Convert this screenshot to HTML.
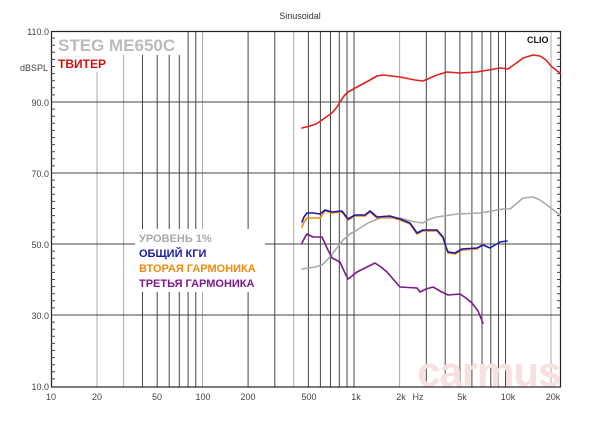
<!DOCTYPE html><html><head><meta charset="utf-8"><style>body{margin:0;background:#fff}svg{display:block;font-family:"Liberation Sans",sans-serif}</style></head><body>
<svg width="600" height="427" viewBox="0 0 600 427">
<text x="300" y="19" font-size="9" text-anchor="middle" fill="#333">Sinusoidal</text>
<g stroke="#444" stroke-width="1">
<line x1="97" y1="40" x2="97" y2="387" stroke="#aaa"/>
<line x1="123.6" y1="55" x2="123.6" y2="387" stroke="#aaa"/>
<line x1="142.5" y1="55" x2="142.5" y2="387"/>
<line x1="157.2" y1="55" x2="157.2" y2="387"/>
<line x1="169.2" y1="55" x2="169.2" y2="387"/>
<line x1="179.3" y1="55" x2="179.3" y2="387"/>
<line x1="188.1" y1="31" x2="188.1" y2="387"/>
<line x1="195.8" y1="31" x2="195.8" y2="387"/>
<line x1="202.5" y1="31" x2="202.5" y2="387" stroke="#aaa"/>
<line x1="248.1" y1="31" x2="248.1" y2="387"/>
<line x1="274.8" y1="31" x2="274.8" y2="387"/>
<line x1="293.7" y1="31" x2="293.7" y2="387" stroke="#aaa"/>
<line x1="308.4" y1="31" x2="308.4" y2="387"/>
<line x1="320.4" y1="31" x2="320.4" y2="387"/>
<line x1="330.5" y1="31" x2="330.5" y2="387"/>
<line x1="339.3" y1="31" x2="339.3" y2="387"/>
<line x1="347.0" y1="31" x2="347.0" y2="387"/>
<line x1="354" y1="31" x2="354" y2="387"/>
<line x1="399.6" y1="31" x2="399.6" y2="387" stroke="#aaa"/>
<line x1="426.3" y1="31" x2="426.3" y2="387"/>
<line x1="445.2" y1="31" x2="445.2" y2="387"/>
<line x1="459.9" y1="31" x2="459.9" y2="387"/>
<line x1="471.9" y1="31" x2="471.9" y2="387"/>
<line x1="482" y1="31" x2="482" y2="387"/>
<line x1="490.8" y1="31" x2="490.8" y2="387"/>
<line x1="498.5" y1="31" x2="498.5" y2="387"/>
<line x1="505.5" y1="31" x2="505.5" y2="387"/>
<line x1="551" y1="31" x2="551" y2="387" stroke="#aaa"/>
<line x1="51" y1="102" x2="561" y2="102"/>
<line x1="51" y1="173" x2="561" y2="173"/>
<line x1="51" y1="244" x2="561" y2="244"/>
<line x1="51" y1="315" x2="561" y2="315"/>
</g>
<rect x="57" y="33" width="120" height="22" fill="#fff"/>
<rect x="57" y="55" width="50" height="17" fill="#fff"/>
<rect x="135" y="229" width="130" height="63" fill="#fff"/>
<text x="417" y="386" font-size="42" font-weight="bold" fill="#f6e0e0" letter-spacing="-1">carmus</text>
<rect x="51.5" y="31.5" width="509" height="355.5" fill="none" stroke="#222" stroke-width="1.2"/>
<g stroke="#444">
<path d="M51 38.1h4M51 45.2h4M51 52.3h4M51 59.4h4M51 66.5h4M51 73.6h4M51 80.7h4M51 87.8h4M51 94.9h4M51 109.1h4M51 116.2h4M51 123.3h4M51 130.4h4M51 137.5h4M51 144.6h4M51 151.7h4M51 158.8h4M51 165.9h4M51 180.1h4M51 187.2h4M51 194.3h4M51 201.4h4M51 208.5h4M51 215.6h4M51 222.7h4M51 229.8h4M51 236.9h4M51 251.1h4M51 258.2h4M51 265.3h4M51 272.4h4M51 279.5h4M51 286.6h4M51 293.7h4M51 300.8h4M51 307.9h4M51 322.1h4M51 329.2h4M51 336.3h4M51 343.4h4M51 350.5h4M51 357.6h4M51 364.7h4M51 371.8h4M51 378.9h4"/>
<path d="M561 38.1h-4M561 45.2h-4M561 52.3h-4M561 59.4h-4M561 66.5h-4M561 73.6h-4M561 80.7h-4M561 87.8h-4M561 94.9h-4M561 109.1h-4M561 116.2h-4M561 123.3h-4M561 130.4h-4M561 137.5h-4M561 144.6h-4M561 151.7h-4M561 158.8h-4M561 165.9h-4M561 180.1h-4M561 187.2h-4M561 194.3h-4M561 201.4h-4M561 208.5h-4M561 215.6h-4M561 222.7h-4M561 229.8h-4M561 236.9h-4M561 251.1h-4M561 258.2h-4M561 265.3h-4M561 272.4h-4M561 279.5h-4M561 286.6h-4M561 293.7h-4M561 300.8h-4M561 307.9h-4"/>
</g>
<g font-size="9" fill="#444" text-anchor="end">
<text x="49" y="35">110.0</text><text x="48" y="71">dBSPL</text><text x="49" y="106">90.0</text><text x="49" y="177">70.0</text><text x="49" y="248">50.0</text><text x="49" y="319">30.0</text><text x="49" y="390">10.0</text>
</g>
<g font-size="9" fill="#444" text-anchor="middle">
<text x="51" y="400">10</text><text x="97" y="400">20</text><text x="157" y="400">50</text><text x="203" y="400">100</text><text x="248" y="400">200</text><text x="309" y="400">500</text><text x="356" y="400">1k</text><text x="401" y="400">2k</text><text x="418" y="400">Hz</text><text x="462" y="400">5k</text><text x="508" y="400">10k</text><text x="553" y="400">20k</text>
</g>
<text x="527" y="43" font-size="9" font-weight="bold" fill="#111">CLIO</text>
<text x="58" y="51" font-size="17" font-weight="bold" fill="#bbb">STEG ME650C</text>
<text x="58" y="68" font-size="12" font-weight="bold" fill="#d01010">ТВИТЕР</text>
<g fill="none" stroke-width="1.6" stroke-linejoin="round" stroke-linecap="round">
<path stroke="#e02020" d="M302 128 L310 126 L316 124 L322 120 L332 113 L337 107 L340 102 L344 96 L348 92 L357 87 L370 80 L377 76 L383 75 L400 77 L415 80 L423 81 L430 78 L437 75 L447 72 L460 73 L477 72 L500 68 L508 69 L515 64 L523 58 L533 55 L540 56 L546 60 L552 67 L560 73"/>
<path stroke="#aaa" d="M302 269 L315 267 L322 265 L330 257 L336 249 L343 240 L350 234 L357 230 L368 223 L380 218 L400 218 L415 222 L423 223 L430 219 L437 217 L457 214 L480 213 L503 209 L510 209 L516 204 L523 198 L533 197 L540 200 L547 205 L560 215"/>
<path stroke="#f08a10" d="M302 227 L304 222 L307 218 L320 218 L325 211 L332 213 L342 212 L348 220 L355 216 L365 216 L370 212 L377 218 L390 217 L400 220 L410 224 L417 234 L423 231 L437 231 L443 238 L446 248 L448 253 L455 254 L462 250 L477 249 L483 244"/>
<path stroke="#1a1aa8" d="M302 222 L304 217 L307 213 L313 213 L320 214 L325 210 L332 212 L342 211 L348 219 L355 215 L365 215 L370 211 L377 217 L390 216 L400 219 L410 223 L417 233 L423 230 L437 230 L443 237 L446 247 L448 252 L455 253 L462 249 L477 248 L483 245 L490 248 L500 242 L507 241"/>
<path stroke="#7a1a8a" d="M302 243 L305 237 L307 234 L313 237 L322 237 L327 248 L332 258 L340 262 L344 271 L348 279 L352 276 L357 272 L367 267 L375 263 L381 267 L387 272 L393 279 L400 287 L417 288 L420 292 L426 289 L433 287 L440 291 L448 295 L460 294 L466 298 L472 303 L478 311 L483 323"/>
</g>
<g font-size="11" font-weight="bold">
<text x="139" y="242" fill="#aaa">УРОВЕНЬ 1%</text>
<text x="139" y="257" fill="#1a1aa8">ОБЩИЙ КГИ</text>
<text x="139" y="272" fill="#f08a10">ВТОРАЯ ГАРМОНИКА</text>
<text x="139" y="287" fill="#7a1a8a">ТРЕТЬЯ ГАРМОНИКА</text>
</g>
</svg></body></html>
